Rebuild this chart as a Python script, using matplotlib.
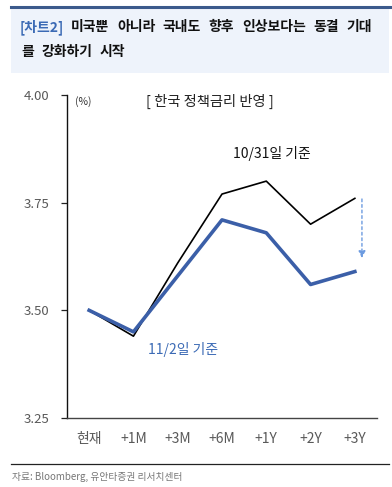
import matplotlib
matplotlib.use("Agg")
import matplotlib.pyplot as plt
from matplotlib.patches import Rectangle
from matplotlib.lines import Line2D

plt.rcParams['font.family'] = ['Noto Sans CJK KR', 'DejaVu Sans']

categories = ['현재', '+1M', '+3M', '+6M', '+1Y', '+2Y', '+3Y']
rate_1031 = [3.50, 3.44, 3.61, 3.77, 3.80, 3.70, 3.76]
rate_1102 = [3.50, 3.45, 3.58, 3.71, 3.68, 3.56, 3.59]
yticks = [3.25, 3.50, 3.75, 4.00]
title_tag = '[차트2]'
title_line1 = '미국뿐 아니라 국내도 향후 인상보다는 동결 기대'
title_line2 = '를 강화하기 시작'

W, H = 392, 487
fig = plt.figure(figsize=(W/100, H/100), dpi=100)
renderer = fig.canvas.get_renderer()

def fx(px): return px / W
def fy(py): return 1 - py / H

TFS = 10

# title box
fig.patches.append(Rectangle((fx(11), fy(73)), fx(389) - fx(11), fy(7) - fy(73),
                             transform=fig.transFigure, facecolor='#eef3fb', edgecolor='none', zorder=0))
fig.lines.append(Line2D([fx(11), fx(392)], [fy(7), fy(7)], transform=fig.transFigure,
                        color='#3b5a8c', lw=2.2))
fig.text(fx(20), fy(27), title_tag, color='#3b6ab5', fontsize=TFS, fontweight='bold', va='center', ha='left')

def spread_words(text, x0, x1, ypx):
    words = text.split(' ')
    objs = [fig.text(0, fy(ypx), w, color='#111111', fontsize=TFS, fontweight='bold',
                     va='center', ha='left') for w in words]
    widths = [o.get_window_extent(renderer).width for o in objs]
    gap = ((x1 - x0) - sum(widths)) / max(len(words) - 1, 1)
    pos = x0
    for o, wd in zip(objs, widths):
        o.set_x(fx(pos))
        pos += wd + gap

spread_words(title_line1, 71, 372, 27)
spread_words(title_line2, 21, 125, 52)

# bottom line + source
fig.lines.append(Line2D([fx(11), fx(389)], [fy(464), fy(464)], transform=fig.transFigure,
                        color='#222222', lw=0.9))
fig.text(fx(12), fy(477), '자료: Bloomberg, 유안타증권 리서치센터', color='#777777', fontsize=7,
         va='center', ha='left')

ax = fig.add_axes([fx(67), fy(418), fx(377) - fx(67), fy(95) - fy(418)])
x = list(range(len(categories)))
ax.plot(x, rate_1031, color='black', lw=1.2, zorder=3)
ax.plot(x, rate_1102, color='#3b5fa8', lw=2.6, zorder=4)

ax.set_xlim(-0.5, 6.5)
ax.set_ylim(3.25, 4.00)
ax.set_yticks(yticks)
ax.set_yticklabels([f'{v:.2f}' for v in yticks])
ax.set_xticks(x)
ax.set_xticklabels(categories)
ax.tick_params(axis='y', direction='out', length=4, width=0.9, colors='#222222',
               labelcolor='#595959', labelsize=9.5, pad=9)
ax.tick_params(axis='x', length=0, labelcolor='#595959', labelsize=10, pad=10)
for s in ['top', 'right']:
    ax.spines[s].set_visible(False)
ax.spines['left'].set_color('#111111')
ax.spines['bottom'].set_color('#444444')
ax.spines['left'].set_linewidth(1.0)
ax.spines['bottom'].set_linewidth(1.0)

ax.text(-0.13, 3.985, '(%)', fontsize=7.5, color='#333333', ha='center', va='center')
ax.text(2.72, 3.985, '[ 한국 정책금리 반영 ]', fontsize=10.3, color='#222222', ha='center', va='center')
ax.text(4.13, 3.865, '10/31일 기준', fontsize=10, color='#111111', ha='center', va='center')
ax.text(2.13, 3.41, '11/2일 기준', fontsize=10, color='#3b6ab5', ha='center', va='center')

ax.annotate('', xy=(6.16, 3.615), xytext=(6.16, 3.765),
            arrowprops=dict(arrowstyle='-|>', linestyle=(0, (2, 2)), color='#6c9be0', lw=1.0,
                            mutation_scale=10))

fig.savefig('out.png', dpi=100)
